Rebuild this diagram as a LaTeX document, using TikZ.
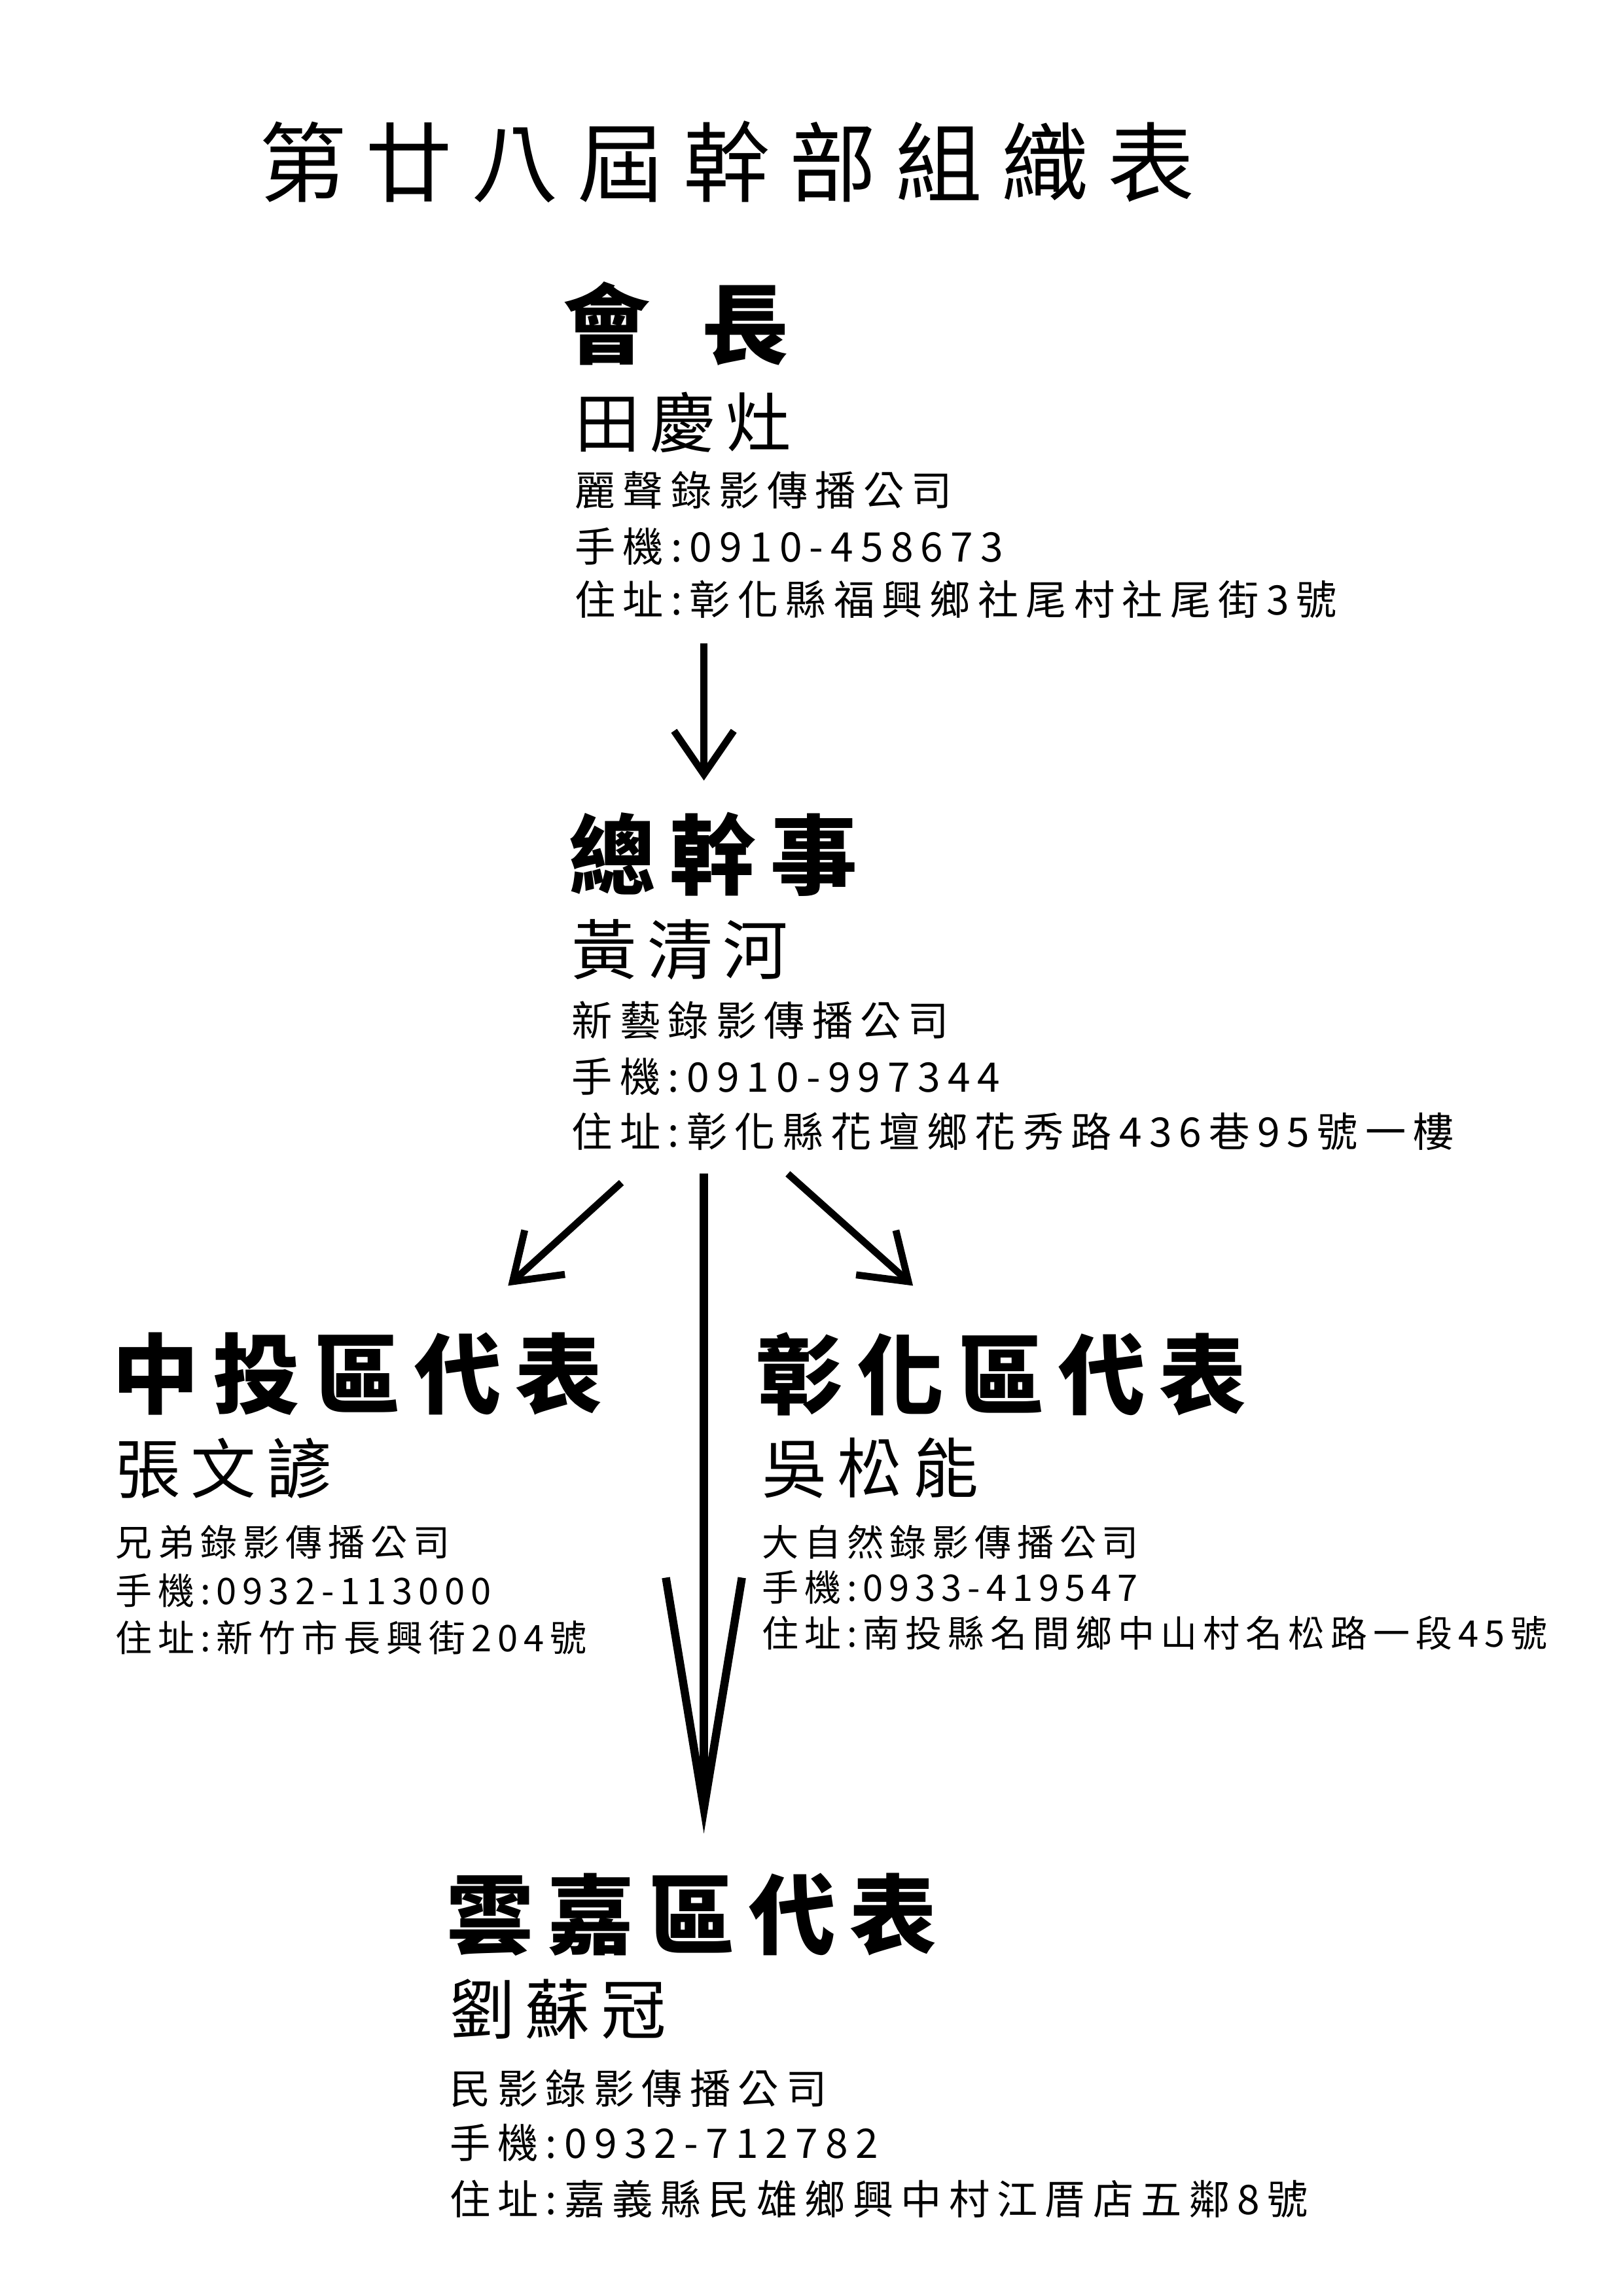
\documentclass[tikz,border=0pt]{standalone}
\usepackage{fontspec}
\setmainfont{Noto Sans CJK TC}
\newfontfamily\cjkb[BoldFont=* Bold]{Noto Sans CJK TC}
\usetikzlibrary{arrows.meta}
\tikzset{
 txt/.style={anchor=west,inner sep=0pt},
 ttl/.style={txt,font=\fontsize{32}{32}\selectfont\addfontfeature{LetterSpace=22}},
 head/.style={txt,font=\fontsize{32}{32}\bfseries\selectfont\addfontfeature{LetterSpace=16}},
 nm/.style={txt,font=\fontsize{24}{24}\selectfont\addfontfeature{LetterSpace=16}},
 info/.style={txt,font=\fontsize{15}{15}\selectfont\addfontfeature{LetterSpace=18}},
 infos/.style={txt,font=\fontsize{13.5}{13.5}\selectfont\addfontfeature{LetterSpace=16}},
 arr/.style={line width=2.6pt,-{Straight Barb[length=16pt,width=22pt,line width=2.6pt]}},
}
\begin{document}
\begin{tikzpicture}[x=0.01906cm,y=-0.01906cm]
\useasboundingbox (0,0) rectangle (1102,1559);
\node[ttl] (t) at (176,110) {第廿八屆幹部組織表};
\node[head] (h1) at (382,220) {會\hspace{0.6em}長};
\node[nm] at (390,287) {田慶灶};
\node[info] at (390,333) {麗聲錄影傳播公司};
\node[info] at (390,371) {手機:0910-458673};
\node[info] (a1) at (390,407) {住址:彰化縣福興鄉社尾村社尾街3號};
\node[head] (h2) at (386,580) {總幹事};
\node[nm] at (388,645) {黃清河};
\node[info] at (388,693) {新藝錄影傳播公司};
\node[info] at (388,731) {手機:0910-997344};
\node[info] at (388,768) {住址:彰化縣花壇鄉花秀路436巷95號一樓};
\node[head] (h3) at (76,933) {中投區代表};
\node[nm] at (78,997) {張文諺};
\node[infos] at (78,1047) {兄弟錄影傳播公司};
\node[infos] at (78,1080) {手機:0932-113000};
\node[infos] at (78,1112) {住址:新竹市長興街204號};
\node[head] (h4) at (513,933) {彰化區代表};
\node[nm] at (517,997) {吳松能};
\node[infos] at (517,1047) {大自然錄影傳播公司};
\node[infos] at (517,1078) {手機:0933-419547};
\node[infos] at (517,1109) {住址:南投縣名間鄉中山村名松路一段45號};
\node[head] (h5) at (303,1300) {雲嘉區代表};
\node[nm] at (305,1364) {劉蘇冠};
\node[info] at (305,1418) {民影錄影傳播公司};
\node[info] at (305,1455) {手機:0932-712782};
\node[info] at (305,1493) {住址:嘉義縣民雄鄉興中村江厝店五鄰8號};
\coordinate (s1) at (478,437); \coordinate (e1) at (478,530);
\draw[arr] (s1) -- (e1);
\coordinate (s2) at (422,803); \coordinate (e2) at (345,873);
\draw[arr] (s2) -- (e2);
\coordinate (s3) at (535,797); \coordinate (e3) at (620,873);
\draw[arr] (s3) -- (e3);
\coordinate (s4) at (478,797); \coordinate (e4) at (478,1245);
\draw[line width=3pt,-{Straight Barb[length=85pt,width=28pt,line width=3pt]}] (s4) -- (e4);
\end{tikzpicture}
\end{document}
